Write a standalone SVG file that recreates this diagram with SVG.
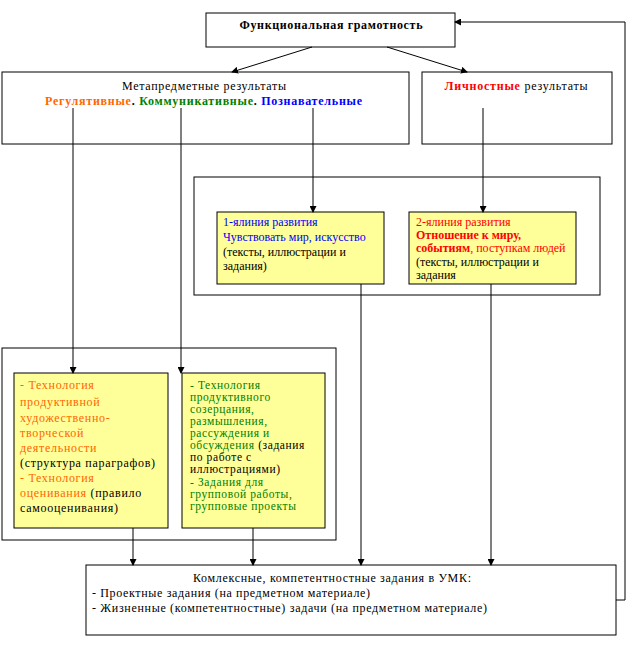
<svg xmlns="http://www.w3.org/2000/svg" width="638" height="661" viewBox="0 0 638 661">
<style>
text{font-family:"Liberation Serif","Times New Roman","DejaVu Serif",serif;font-size:12px;fill:#000}
.b{font-weight:bold}
.box{fill:#fff;stroke:#000;stroke-width:1}
.y{fill:#FFFF99;stroke:#000;stroke-width:1}
.c line,.c polyline{stroke:#000;stroke-width:1;fill:none}
.or{fill:#FF6600}.gr{fill:#008000}.bl{fill:#0000FF}.rd{fill:#FF0000}
.t2 text{font-size:11.5px;letter-spacing:0.6px}
.t1 text{letter-spacing:0.7px}
</style>
<defs>
<marker id="ar" markerWidth="7" markerHeight="7" refX="6" refY="3.5" orient="auto" markerUnits="userSpaceOnUse">
<path d="M0,0 L7,3.5 L0,7 z" fill="#000"/>
</marker>
</defs>
<g id="container-mid"><rect class="box" x="194" y="177" width="406" height="118"/></g>
<g id="container-left"><rect class="box" x="2" y="348" width="334" height="192"/></g>
<g id="functional">
<rect class="box" x="206" y="13" width="249" height="34"/>
<text class="b" x="331" y="29" text-anchor="middle" font-size="11" textLength="183" lengthAdjust="spacing" font-family="Liberation Serif, serif">Функциональная грамотность</text>
</g>
<g id="meta">
<rect class="box" x="2" y="72" width="407" height="72"/>
<text x="204" y="90" text-anchor="middle" textLength="164" lengthAdjust="spacing" font-family="Liberation Serif, serif">Метапредметные результаты</text>
<text class="b" x="45" y="105" textLength="317" lengthAdjust="spacing" font-family="Liberation Serif, serif"><tspan class="or">Регулятивные</tspan>. <tspan class="gr">Коммуникативные</tspan>. <tspan class="bl">Познавательные</tspan></text>
</g>
<g id="personal">
<rect class="box" x="422" y="72" width="190" height="72"/>
<text x="516" y="90" text-anchor="middle" textLength="143" lengthAdjust="spacing" font-family="Liberation Serif, serif"><tspan class="b rd">Личностные</tspan> результаты</text>
</g>
<g id="line1">
<rect class="y" x="217" y="212" width="167" height="72"/>
<text x="223" y="226" class="bl" font-family="Liberation Serif, serif">1-ялиния развития</text>
<text x="223" y="241" class="bl" font-family="Liberation Serif, serif">Чувствовать мир, искусство</text>
<text x="223" y="256" font-family="Liberation Serif, serif">(тексты, иллюстрации и</text>
<text x="223" y="270" font-family="Liberation Serif, serif">задания)</text>
</g>
<g id="line2">
<rect class="y" x="409" y="212" width="167" height="72"/>
<text x="416" y="226" class="rd" font-family="Liberation Serif, serif">2-ялиния развития</text>
<text x="416" y="239" class="b rd" font-family="Liberation Serif, serif">Отношение к миру,</text>
<text x="416" y="252" class="rd" font-family="Liberation Serif, serif"><tspan class="b">событиям</tspan>, поступкам людей</text>
<text x="416" y="266" font-family="Liberation Serif, serif">(тексты, иллюстрации и</text>
<text x="416" y="279" font-family="Liberation Serif, serif">задания</text>
</g>
<g id="tech1" class="t1">
<rect class="y" x="14" y="373" width="154" height="155"/>
<text x="20" y="389" class="or" font-family="Liberation Serif, serif">- Технология</text>
<text x="20" y="406" class="or" font-family="Liberation Serif, serif">продуктивной</text>
<text x="20" y="422" class="or" font-family="Liberation Serif, serif">художественно-</text>
<text x="20" y="437" class="or" font-family="Liberation Serif, serif">творческой</text>
<text x="20" y="452" class="or" font-family="Liberation Serif, serif">деятельности</text>
<text x="20" y="467" font-family="Liberation Serif, serif">(структура параграфов)</text>
<text x="20" y="482" class="or" font-family="Liberation Serif, serif">- Технология</text>
<text x="20" y="497" font-family="Liberation Serif, serif"><tspan class="or">оценивания</tspan> (правило</text>
<text x="20" y="512" font-family="Liberation Serif, serif">самооценивания)</text>
</g>
<g id="tech2" class="t2">
<rect class="y" x="182" y="373" width="143" height="155"/>
<text x="190" y="389" class="gr" font-family="Liberation Serif, serif">- Технология</text>
<text x="190" y="401" class="gr" font-family="Liberation Serif, serif">продуктивного</text>
<text x="190" y="413" class="gr" font-family="Liberation Serif, serif">созерцания,</text>
<text x="190" y="425" class="gr" font-family="Liberation Serif, serif">размышления,</text>
<text x="190" y="437" class="gr" font-family="Liberation Serif, serif">рассуждения и</text>
<text x="190" y="449" font-family="Liberation Serif, serif"><tspan class="gr">обсуждения</tspan> (задания</text>
<text x="190" y="461" font-family="Liberation Serif, serif">по работе с</text>
<text x="190" y="473" font-family="Liberation Serif, serif">иллюстрациями)</text>
<text x="190" y="486" class="gr" font-family="Liberation Serif, serif">- Задания для</text>
<text x="190" y="498" class="gr" font-family="Liberation Serif, serif">групповой работы,</text>
<text x="190" y="510" class="gr" font-family="Liberation Serif, serif">групповые проекты</text>
</g>
<g id="complex">
<rect class="box" x="86" y="565" width="530" height="70"/>
<text x="332" y="582" text-anchor="middle" textLength="278" lengthAdjust="spacing" font-family="Liberation Serif, serif">Комлексные, компетентностные задания в УМК:</text>
<text x="92" y="597" textLength="278" lengthAdjust="spacing" font-family="Liberation Serif, serif">- Проектные задания (на предметном материале)</text>
<text x="92" y="612" textLength="395" lengthAdjust="spacing" font-family="Liberation Serif, serif">- Жизненные (компетентностные) задачи (на предметном материале)</text>
</g>
<g id="connectors" class="c">
<line x1="312" y1="47" x2="232" y2="72" marker-end="url(#ar)"/>
<line x1="387" y1="47" x2="467" y2="72" marker-end="url(#ar)"/>
<line x1="73" y1="108" x2="73" y2="373" marker-end="url(#ar)"/>
<line x1="181" y1="108" x2="181" y2="373" marker-end="url(#ar)"/>
<line x1="313" y1="108" x2="313" y2="212" marker-end="url(#ar)"/>
<line x1="483" y1="108" x2="483" y2="212" marker-end="url(#ar)"/>
<line x1="361" y1="284" x2="361" y2="565" marker-end="url(#ar)"/>
<line x1="491" y1="284" x2="491" y2="565" marker-end="url(#ar)"/>
<line x1="133" y1="528" x2="133" y2="565" marker-end="url(#ar)"/>
<line x1="253" y1="528" x2="253" y2="565" marker-end="url(#ar)"/>
<polyline points="616,600 625,600 625,22 455,22" marker-end="url(#ar)"/>
</g>
</svg>
